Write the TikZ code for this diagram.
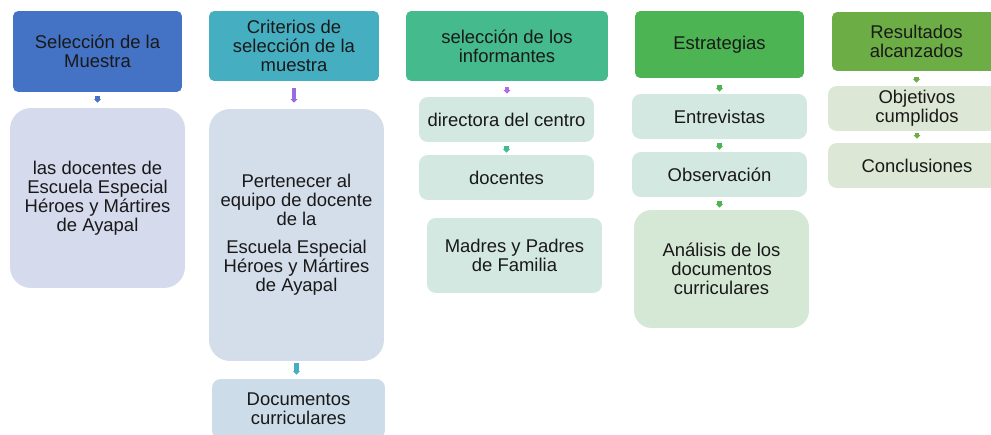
\documentclass[tikz,border=0pt]{standalone}
\usepackage{fontspec}
\setmainfont{Liberation Sans}
\usepackage{xcolor}
\usetikzlibrary{arrows.meta}

\definecolor{hblue}{HTML}{4472C4}
\definecolor{hteal}{HTML}{45AEC1}
\definecolor{hmint}{HTML}{45BA8C}
\definecolor{hgreen}{HTML}{4DB453}
\definecolor{holive}{HTML}{6DAD46}
\definecolor{lblue}{HTML}{D5DAED}
\definecolor{lsteel}{HTML}{D3DEEA}
\definecolor{lmint}{HTML}{D3E8E1}
\definecolor{lsage}{HTML}{D5E7D5}
\definecolor{lolive}{HTML}{DCE8D5}
\definecolor{apurple}{HTML}{9A6BE0}
\definecolor{aviolet}{HTML}{B06BE0}

\tikzset{
  head/.style={rounded corners=3pt, align=center, inner sep=2pt, text=black!90,
    font=\fontsize{10.5}{10.8}\selectfont},
  leaf/.style={head, rounded corners=5pt},
  link/.style={line width=2.3pt, -{Triangle[width=3.8pt,length=2pt]}},
}

\begin{document}
\begin{tikzpicture}[x=0.02cm, y=-0.02cm]

      \useasboundingbox (0,0) rectangle (991,435);
      \clip (0,0) rectangle (991,435);

      % Seleccion de la muestra
      \node[head, fill=hblue, minimum width=3.38cm, minimum height=1.62cm]
        (h1) at (97.5,51.5) {Selección de la\\Muestra};
      \node[leaf, fill=lblue, rounded corners=12pt, minimum width=3.5cm, minimum height=3.6cm]
        (b1) at (97.5,198) {las docentes de\\Escuela Especial\\Héroes y Mártires\\de Ayapal};
      \draw[link, hblue, shorten <=0.08cm, shorten >=0.1cm] (h1.south) -- (h1.south |- b1.north);

      % Criterios
      \node[head, fill=hteal, minimum width=3.4cm, minimum height=1.4cm]
        (h2) at (294,46) {Criterios de\\selección de la\\muestra};
      \node[leaf, fill=lsteel, rounded corners=12pt, minimum width=3.5cm, minimum height=5.04cm]
        (b2) at (296.5,235) {Pertenecer al\\equipo de docente\\de la\\[5pt]Escuela Especial\\Héroes y Mártires\\de Ayapal};
      \node[leaf, fill=lsteel!95!hteal, minimum width=3.46cm, minimum height=1.2cm]
        (d2) at (298.5,409) {Documentos\\curriculares};
      \draw[link, apurple, line width=2.8pt, shorten <=0.14cm, shorten >=0.12cm] (h2.south) -- (h2.south |- b2.north);
      \draw[link, hteal, shorten <=0.04cm, shorten >=0.08cm] (b2.south) -- (b2.south |- d2.north);

      % Informantes
      \node[head, fill=hmint, minimum width=4.04cm, minimum height=1.4cm]
        (h3) at (507,46) {selección de los\\informantes};
      \node[leaf, fill=lmint, minimum width=3.5cm, minimum height=0.9cm]
        (c1) at (506.5,119.5) {directora del centro};
      \node[leaf, fill=lmint, minimum width=3.5cm, minimum height=0.9cm]
        (c2) at (506.5,177.5) {docentes};
      \node[leaf, fill=lmint, minimum width=3.5cm, minimum height=1.5cm]
        (c3) at (514.5,255.5) {Madres y Padres\\de Familia};
      \draw[link, aviolet, shorten <=0.12cm, shorten >=0.06cm] (h3.south) -- (h3.south |- c1.north);
      \draw[link, hmint, shorten <=0.08cm, shorten >=0.04cm] (c1.south) -- (c1.south |- c2.north);

      % Estrategias
      \node[head, fill=hgreen, minimum width=3.38cm, minimum height=1.34cm]
        (h4) at (719.5,44.5) {Estrategias};
      \node[leaf, fill=lmint, minimum width=3.5cm, minimum height=0.9cm]
        (e1) at (719.5,116.5) {Entrevistas};
      \node[leaf, fill=lmint, minimum width=3.5cm, minimum height=0.9cm]
        (e2) at (719.5,174.5) {Observación};
      \node[leaf, fill=lsage, rounded corners=10pt, minimum width=3.5cm, minimum height=2.36cm]
        (e3) at (721.5,269) {Análisis de los\\documentos\\curriculares};
      \draw[link, hgreen, shorten <=0.14cm, shorten >=0.04cm] (h4.south) -- (h4.south |- e1.north);
      \draw[link, hgreen, shorten <=0.08cm, shorten >=0.04cm] (e1.south) -- (e1.south |- e2.north);
      \draw[link, hgreen, shorten <=0.08cm, shorten >=0.04cm] (e2.south) -- (e2.south |- e3.north);

      % Resultados
      \node[head, fill=holive, minimum width=3.38cm, minimum height=1.18cm]
        (h5) at (916.5,41.5) {Resultados\\alcanzados};
      \node[leaf, fill=lolive, minimum width=3.56cm, minimum height=0.9cm]
        (r1) at (917,108.5) {Objetivos\\cumplidos};
      \node[leaf, fill=lolive, minimum width=3.56cm, minimum height=0.9cm]
        (r2) at (917,165.5) {Conclusiones};
      \draw[link, holive, shorten <=0.12cm, shorten >=0.06cm] (h5.south) -- (h5.south |- r1.north);
      \draw[link, holive, shorten <=0.04cm, shorten >=0.08cm] (r1.south) -- (r1.south |- r2.north);

\end{tikzpicture}
\end{document}
